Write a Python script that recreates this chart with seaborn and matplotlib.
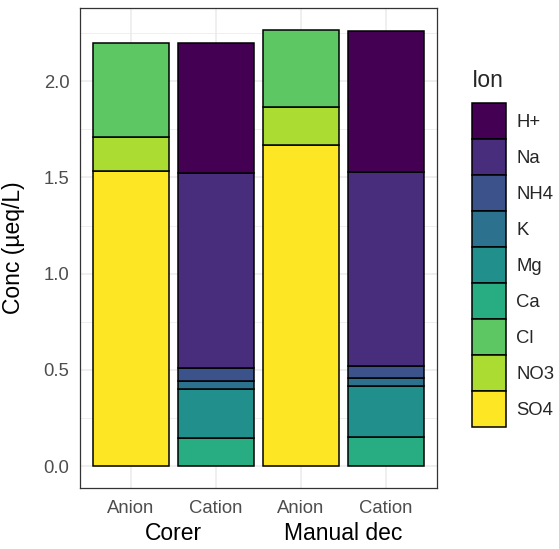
import matplotlib
matplotlib.use("Agg")
import matplotlib.pyplot as plt
from matplotlib.patches import Patch
import seaborn as sns
import pandas as pd

# Ion balance per sampling method: anion and cation sums (µeq/L)
methods = ["Corer", "Manual dec"]
charges = ["Anion", "Cation"]
ions = ["H+", "Na", "NH4", "K", "Mg", "Ca", "Cl", "NO3", "SO4"]
anion_ions = ["Cl", "NO3", "SO4"]
cation_ions = ["H+", "Na", "NH4", "K", "Mg", "Ca"]

corer_anion = [0.487, 0.177, 1.534]                      # Cl, NO3, SO4
corer_cation = [0.676, 1.011, 0.069, 0.039, 0.258, 0.145]  # H+, Na, NH4, K, Mg, Ca
manual_anion = [0.404, 0.196, 1.668]
manual_cation = [0.734, 1.007, 0.061, 0.043, 0.264, 0.152]

palette = ["#440154", "#472D7B", "#3B528B", "#2C728E", "#21908C",
           "#27AD81", "#5DC863", "#AADC32", "#FDE725"]

rows = []
for method, an, cat in [("Corer", corer_anion, corer_cation),
                        ("Manual dec", manual_anion, manual_cation)]:
    for ion, v in zip(anion_ions, an):
        rows.append((f"{method}|Anion", method, "Anion", ion, v))
    for ion, v in zip(cation_ions, cat):
        rows.append((f"{method}|Cation", method, "Cation", ion, v))
df = pd.DataFrame(rows, columns=["bar", "method", "charge", "Ion", "conc"])
bar_order = [f"{m}|{c}" for m in methods for c in charges]
df["bar"] = pd.Categorical(df["bar"], categories=bar_order, ordered=True)
df = df.sort_values("bar")

sns.set_theme(style="white")
plt.rcParams["font.family"] = ["Liberation Sans", "DejaVu Sans"]

fig = plt.figure(figsize=(5.59, 5.49), dpi=100)
ax = fig.add_axes([80 / 559, 61 / 549, 357 / 559, 480 / 549])

sns.histplot(data=df, x="bar", weights="conc", hue="Ion", hue_order=ions,
             palette=palette, multiple="stack", discrete=True, shrink=0.9,
             edgecolor="black", linewidth=1.1, alpha=1, legend=False, ax=ax)

# ions absent from a bar leave empty segments; drop them
for p in list(ax.patches):
    if abs(p.get_height()) < 1e-9:
        p.remove()

ax.set_xlim(-0.6, 3.6)
ax.set_ylim(-0.1135, 2.38)

# theme_bw-like grid
ax.set_axisbelow(True)
ax.set_yticks([0, 0.5, 1.0, 1.5, 2.0])
ax.set_yticklabels(["0.0", "0.5", "1.0", "1.5", "2.0"])
ax.set_yticks([0.25, 0.75, 1.25, 1.75, 2.25], minor=True)
ax.set_xticks(range(4))
ax.set_xticklabels([c for m in methods for c in charges])
ax.grid(True, which="major", color="#EBEBEB", linewidth=1.1)
ax.grid(True, which="minor", axis="y", color="#EBEBEB", linewidth=0.55)
for s in ax.spines.values():
    s.set_color("#333333")
    s.set_linewidth(0.9)
ax.tick_params(axis="both", which="major", length=5, width=0.9, color="#333333",
               labelcolor="#4D4D4D", labelsize=13.3, pad=2.5)
ax.tick_params(axis="x", which="major", pad=3.5)
ax.tick_params(which="minor", length=0)

ax.set_xlabel("")
ax.set_ylabel("Conc (µeq/L)", fontsize=16.5, color="black")
ax.yaxis.set_label_coords(-0.154, 0.5)

for i, m in enumerate(methods):
    ax.text(2 * i + 0.5, -0.094, m, transform=ax.get_xaxis_transform(),
            ha="center", va="center", fontsize=16.5, color="black")

handles = [Patch(facecolor=c, edgecolor="black", linewidth=1.1) for c in palette]
leg = fig.legend(handles, ions, title="Ion", loc="upper left",
                 bbox_to_anchor=(472 / 559, 1 - 69 / 549), frameon=False,
                 fontsize=13.3, title_fontsize=16.5, handlelength=1.84,
                 handleheight=2.62, labelspacing=0.0, handletextpad=0.55,
                 borderpad=0, borderaxespad=0, alignment="left")
leg._legend_box.sep = 8

fig.savefig("out.png", dpi=100)
